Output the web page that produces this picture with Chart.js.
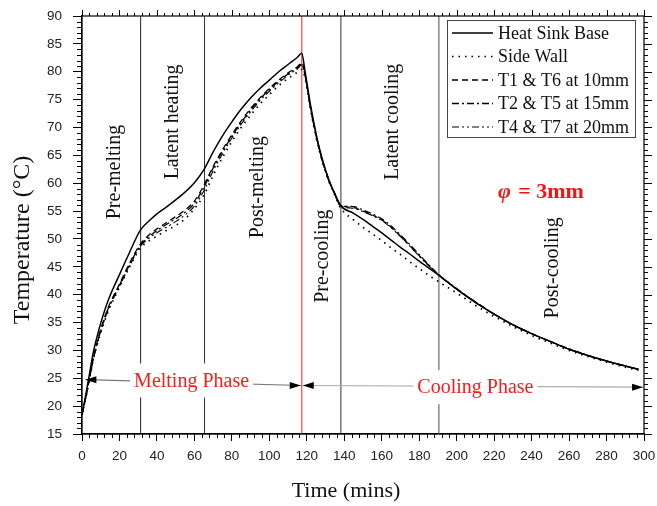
<!DOCTYPE html>
<html>
<head>
<meta charset="utf-8">
<script src="https://cdn.jsdelivr.net/npm/chart.js@4.4.1/dist/chart.umd.min.js"></script>
<style>
  html, body { margin: 0; padding: 0; background: #fff; }
  #wrap { width: 657px; height: 506px; }
</style>
</head>
<body>
<div id="wrap"><canvas id="tempChart"></canvas></div>
<script>
// Sampled time axis (mins) shared by every thermocouple trace
const timeMins = [0, 2, 4, 6, 8, 10, 14, 20, 25, 31,
  36, 40, 45, 50, 55, 60, 65, 70, 75, 80,
  85, 90, 95, 100, 105, 110, 115, 117.3, 119, 122,
  125, 128, 132, 135, 138, 145, 150, 155, 160, 165,
  170, 175, 180, 185, 190, 200, 210, 220, 230, 240,
  250, 260, 270, 280, 290, 297];

const heatSinkBase = [18.5, 22.0, 25.8, 29.6, 32.4, 34.9, 39.0, 43.6, 47.3, 51.5,
  53.3, 54.5, 55.7, 57.0, 58.4, 60.1, 62.4, 65.6, 68.5, 71.0,
  73.3, 75.3, 77.0, 78.5, 80.0, 81.3, 82.6, 83.3, 80.2, 74.0,
  68.8, 64.6, 60.4, 58.1, 56.0, 54.6, 53.5, 52.3, 51.1, 49.8,
  48.5, 47.3, 46.0, 44.8, 43.6, 41.0, 38.6, 36.5, 34.6, 33.0,
  31.6, 30.2, 29.1, 28.1, 27.2, 26.6];

const sideWall = [18.5, 21.4, 24.8, 28.2, 30.9, 33.2, 37.0, 41.3, 44.7, 48.3,
  49.7, 50.5, 51.5, 52.4, 53.6, 55.4, 57.8, 61.4, 64.6, 67.5,
  70.0, 72.2, 74.2, 75.9, 77.5, 78.8, 79.9, 80.4, 79.0, 73.2,
  68.2, 64.2, 60.1, 57.8, 55.6, 53.4, 52.1, 50.9, 49.7, 48.4,
  47.2, 45.9, 44.7, 43.5, 42.4, 40.3, 38.1, 36.1, 34.3, 32.7,
  31.3, 30.0, 28.9, 27.9, 27.0, 26.4];

const t1t6 = [18.5, 21.6, 25.1, 28.6, 31.4, 33.8, 37.7, 41.9, 45.4, 49.0,
  50.8, 51.8, 52.9, 54.0, 55.2, 56.8, 59.6, 63.0, 66.0, 68.7,
  71.2, 73.4, 75.3, 77.0, 78.5, 79.8, 80.9, 81.6, 79.6, 73.6,
  68.6, 64.5, 60.4, 58.1, 56.1, 55.6, 55.0, 54.3, 53.4, 52.1,
  50.5, 48.8, 47.0, 45.3, 43.7, 41.0, 38.7, 36.5, 34.6, 33.0,
  31.6, 30.2, 29.1, 28.1, 27.2, 26.6];

const t2t5 = [18.5, 21.5, 25.0, 28.4, 31.2, 33.6, 37.5, 41.7, 45.1, 48.8,
  50.5, 51.5, 52.6, 53.6, 54.8, 56.4, 59.2, 62.7, 65.7, 68.4,
  70.9, 73.1, 75.1, 76.8, 78.3, 79.6, 80.7, 81.4, 79.5, 73.5,
  68.5, 64.4, 60.3, 58.0, 56.0, 55.8, 55.2, 54.5, 53.6, 52.3,
  50.7, 49.0, 47.2, 45.4, 43.7, 41.1, 38.7, 36.5, 34.6, 33.0,
  31.6, 30.3, 29.1, 28.1, 27.2, 26.6];

const t4t7 = [18.5, 21.4, 24.9, 28.3, 31.0, 33.4, 37.3, 41.5, 44.9, 48.6,
  50.2, 51.1, 52.1, 53.1, 54.3, 55.9, 58.6, 62.2, 65.3, 68.1,
  70.6, 72.8, 74.8, 76.5, 78.0, 79.4, 80.5, 81.2, 79.3, 73.4,
  68.4, 64.3, 60.2, 57.9, 55.9, 55.5, 54.9, 54.2, 53.3, 52.0,
  50.4, 48.7, 46.9, 45.2, 43.6, 41.0, 38.6, 36.5, 34.6, 33.0,
  31.6, 30.2, 29.1, 28.1, 27.2, 26.6];

const seriesNames = ['Heat Sink Base', 'Side Wall', 'T1 & T6 at 10mm', 'T2 & T5 at 15mm', 'T4 & T7 at 20mm'];

// Phase boundaries (mins) and the names of the six stages between them
const phaseBounds = [31.3, 65.4, 117.3, 138.2, 190.5];
const stageNames = ['Pre-melting', 'Latent heating', 'Post-melting', 'Pre-cooling', 'Latent cooling', 'Post-cooling'];
const phaseNames = ['Melting Phase', 'Cooling Phase'];
const poreLabel = ['\u03C6', ' = 3mm'];

const SERIF = "'Liberation Serif', 'Times New Roman', serif";
const SANS = "'Liberation Sans', Arial, sans-serif";

const toPoints = vals => vals.map((v, i) => ({ x: timeMins[i], y: v }));

const lineStyles = [
  { dash: [], width: 1.5 },
  { dash: [1.5, 5], width: 1.7 },
  { dash: [6, 4], width: 1.3 },
  { dash: [7, 3, 2, 3], width: 1.3 },
  { dash: [7, 3, 2, 3, 2, 3], width: 1.1 }
];

const datasets = [heatSinkBase, sideWall, t1t6, t2t5, t4t7].map((vals, i) => ({
  label: seriesNames[i],
  data: toPoints(vals),
  borderColor: '#000',
  borderWidth: lineStyles[i].width,
  borderDash: lineStyles[i].dash,
  pointRadius: 0,
  cubicInterpolationMode: 'monotone',
  fill: false
}));

function arrowHead(ctx, tipX, tipY, dir) {
  ctx.beginPath();
  ctx.moveTo(tipX, tipY);
  ctx.lineTo(tipX - dir * 11, tipY - 3.5);
  ctx.lineTo(tipX - dir * 11, tipY + 3.5);
  ctx.closePath();
  ctx.fill();
}

// Phase lines, arrows and stage names go underneath the curves
const phasePlugin = {
  id: 'phases',
  beforeDatasetsDraw(chart) {
    const { ctx, chartArea: { top, bottom } } = chart;
    const xs = chart.scales.x, ys = chart.scales.y;
    const px = v => xs.getPixelForValue(v);
    const py = v => ys.getPixelForValue(v);

    ctx.save();
    const boundStyle = [
      { c: '#222', w: 1 }, { c: '#333', w: 1 }, { c: '#f26b6b', w: 1.5 },
      { c: '#333', w: 1 }, { c: '#888', w: 1.5 }
    ];
    phaseBounds.forEach((b, i) => {
      ctx.strokeStyle = boundStyle[i].c;
      ctx.lineWidth = boundStyle[i].w;
      ctx.beginPath();
      ctx.moveTo(px(b), top);
      ctx.lineTo(px(b), bottom);
      ctx.stroke();
    });

    // phase span arrows
    const mid = phaseBounds[2];
    ctx.lineWidth = 1.2;
    ctx.strokeStyle = '#777';
    ctx.beginPath();
    ctx.moveTo(px(1.8), py(24.75));
    ctx.lineTo(px(mid), py(23.7));
    ctx.stroke();
    ctx.strokeStyle = '#aaa';
    ctx.beginPath();
    ctx.moveTo(px(mid), py(23.7));
    ctx.lineTo(px(299.5), py(23.4));
    ctx.stroke();
    ctx.fillStyle = '#000';
    arrowHead(ctx, px(1.8), py(24.75), -1);
    arrowHead(ctx, px(mid) - 1, py(23.7), 1);
    arrowHead(ctx, px(mid) + 1, py(23.7), -1);
    arrowHead(ctx, px(299.5), py(23.4), 1);

    // phase names sit on white boxes that break the boundary lines
    ctx.font = `20px ${SERIF}`;
    ctx.textAlign = 'center';
    ctx.textBaseline = 'middle';
    [[58.5, 24.6], [210, 23.4]].forEach(([x, y], i) => {
      const w = ctx.measureText(phaseNames[i]).width;
      ctx.fillStyle = '#fff';
      ctx.fillRect(px(x) - w / 2 - 4, py(y) - 17, w + 8, 34);
      ctx.fillStyle = '#ff1a1a';
      ctx.fillText(phaseNames[i], px(x), py(y) + 1);
    });

    // stage names, written bottom-to-top
    const anchors = [[17.6, 62.0], [48.6, 71.0], [93.9, 59.3], [128.6, 46.9], [165.9, 71.0], [251.3, 44.8]];
    ctx.fillStyle = '#111';
    stageNames.forEach((name, i) => {
      ctx.save();
      ctx.translate(px(anchors[i][0]), py(anchors[i][1]));
      ctx.rotate(-Math.PI / 2);
      ctx.fillText(name, 0, 0);
      ctx.restore();
    });
    ctx.restore();
  }
};

// Frame, minor ticks, mirrored ticks, legend and titles
const framePlugin = {
  id: 'frame',
  afterDatasetsDraw(chart) {
    const { ctx, chartArea: { left, right, top, bottom } } = chart;
    const xs = chart.scales.x, ys = chart.scales.y;

    ctx.save();
    ctx.strokeStyle = '#000';
    ctx.lineWidth = 1.2;
    ctx.strokeRect(left, top, right - left, bottom - top);

    ctx.lineWidth = 1;
    ctx.beginPath();
    for (let v = 0; v <= 300; v += 4) {
      const x = Math.round(xs.getPixelForValue(v)) + 0.5;
      const major = v % 20 === 0;
      if (!major) { ctx.moveTo(x, bottom); ctx.lineTo(x, bottom + 4); }
      ctx.moveTo(x, top); ctx.lineTo(x, top - (major ? 6 : 3));
    }
    for (let v = 15; v <= 90; v += 1) {
      const y = Math.round(ys.getPixelForValue(v)) + 0.5;
      const major = v % 5 === 0;
      if (!major) { ctx.moveTo(left, y); ctx.lineTo(left - 5, y); }
      ctx.moveTo(right, y); ctx.lineTo(right + (major ? 8 : 4), y);
    }
    ctx.stroke();

    // legend
    const bx = right - 197, by = top + 4, bw = 188, bh = 117;
    ctx.fillStyle = '#fff';
    ctx.fillRect(bx, by, bw, bh);
    ctx.strokeStyle = '#444';
    ctx.strokeRect(bx + 0.5, by + 0.5, bw, bh);
    ctx.font = `18px ${SERIF}`;
    ctx.textAlign = 'left';
    ctx.textBaseline = 'middle';
    chart.data.datasets.forEach((ds, i) => {
      const y = by + 13 + i * 23.5;
      ctx.strokeStyle = '#000';
      ctx.lineWidth = ds.borderWidth;
      ctx.setLineDash(ds.borderDash);
      ctx.beginPath();
      ctx.moveTo(bx + 5, y);
      ctx.lineTo(bx + 46, y);
      ctx.stroke();
      ctx.setLineDash([]);
      ctx.fillStyle = '#111';
      ctx.fillText(ds.label, bx + 51, y + 1);
    });

    // pore diameter note
    ctx.fillStyle = '#ff1010';
    const nx = xs.getPixelForValue(222), ny = ys.getPixelForValue(58.4);
    ctx.font = `italic bold 22px ${SERIF}`;
    ctx.fillText(poreLabel[0], nx, ny);
    const fw = ctx.measureText(poreLabel[0]).width;
    ctx.font = `bold 22px ${SERIF}`;
    ctx.fillText(poreLabel[1], nx + fw + 2, ny);

    // axis titles
    ctx.fillStyle = '#111';
    ctx.textAlign = 'center';
    ctx.font = `22px ${SERIF}`;
    ctx.fillText('Time (mins)', left + 264, 491);
    ctx.save();
    ctx.translate(23, 240);
    ctx.rotate(-Math.PI / 2);
    ctx.font = `24px ${SERIF}`;
    ctx.fillText('Temperature (\u00B0C)', 0, 0);
    ctx.restore();
    ctx.restore();
  }
};

new Chart(document.getElementById('tempChart'), {
  type: 'line',
  data: { datasets },
  options: {
    responsive: true,
    maintainAspectRatio: false,
    animation: false,
    devicePixelRatio: 1,
    layout: { padding: { top: 16, right: 13, left: 0, bottom: 0 } },
    plugins: { legend: { display: false }, tooltip: { enabled: false } },
    scales: {
      x: {
        type: 'linear',
        min: 0,
        max: 300,
        afterFit: s => { s.height = 72; s.paddingLeft = 0; s.paddingRight = 0; },
        ticks: { stepSize: 20, padding: 7, color: '#222', font: { family: SANS, size: 13.5 }, maxRotation: 0, autoSkip: false },
        grid: { drawOnChartArea: false, tickLength: 7, tickColor: '#000' },
        border: { color: '#000', width: 1.2 }
      },
      y: {
        min: 15,
        max: 90,
        afterFit: s => { s.width = 82; s.paddingTop = 0; s.paddingBottom = 0; },
        ticks: { stepSize: 5, padding: 11, color: '#222', font: { family: SANS, size: 13.5 } },
        grid: { drawOnChartArea: false, tickLength: 9, tickColor: '#000' },
        border: { color: '#000', width: 1.2 }
      }
    }
  },
  plugins: [phasePlugin, framePlugin]
});
</script>
</body>
</html>
